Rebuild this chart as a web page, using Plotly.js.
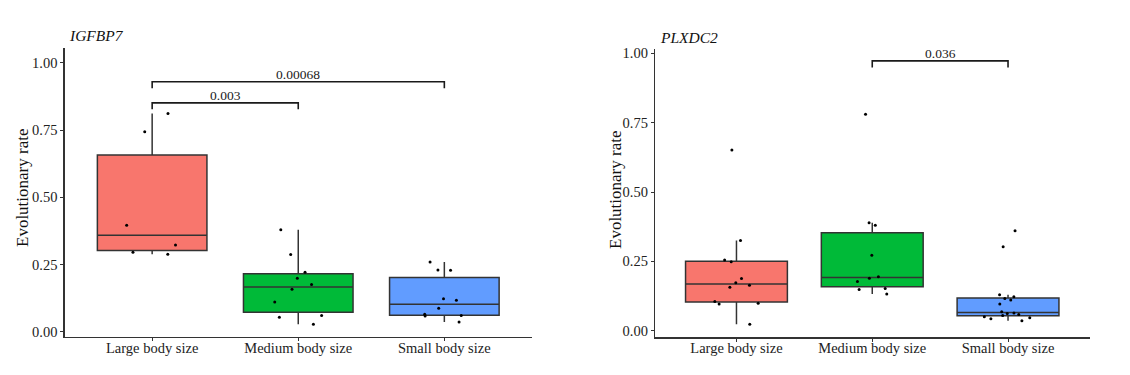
<!DOCTYPE html>
<html>
<head>
<meta charset="utf-8">
<script src="https://cdn.plot.ly/plotly-3.0.1.min.js"></script>
<style>html,body{margin:0;padding:0;background:#fff;}#chart{width:1130px;height:375px;}</style>
</head>
<body>
<div id="chart"></div>
<script>
// ---- data ----
const categories = ['Large body size', 'Medium body size', 'Small body size'];
const tickVals = [0, 0.25, 0.5, 0.75, 1];
const tickText = ['0.00', '0.25', '0.50', '0.75', '1.00'];

// IGFBP7 evolutionary rates
const igfbp7Large  = [0.811, 0.744, 0.396, 0.323, 0.296, 0.289];
const igfbp7Medium = [0.380, 0.288, 0.222, 0.200, 0.176, 0.159, 0.111, 0.061, 0.055, 0.029];
const igfbp7Small  = [0.260, 0.230, 0.229, 0.123, 0.118, 0.088, 0.066, 0.061, 0.059, 0.037];
const igfbp7Pairs  = [[0, 1], [0, 2]];
const igfbp7PLabels = ['0.003', '0.00068'];

// PLXDC2 evolutionary rates
const plxdc2Large  = [0.652, 0.325, 0.255, 0.249, 0.188, 0.173, 0.164, 0.157, 0.105, 0.099, 0.096, 0.023];
const plxdc2Medium = [0.781, 0.389, 0.380, 0.272, 0.195, 0.189, 0.177, 0.152, 0.149, 0.132];
const plxdc2Small  = [0.360, 0.303, 0.130, 0.122, 0.116, 0.111, 0.096, 0.068, 0.064, 0.062, 0.058, 0.055, 0.050, 0.047, 0.043, 0.036];
const plxdc2Pairs  = [[1, 2]];
const plxdc2PLabels = ['0.036'];

// ---- styling ----
const fills = ['#F8766D', '#00BA38', '#619CFF'];
const FONT = '"Liberation Serif", "Times New Roman", Times, serif';
const W = 1130, H = 375;

// R type-7 quantile (ggplot2 default) + Tukey whiskers
function quantile7(sorted, p) {
  const h = (sorted.length - 1) * p, lo = Math.floor(h), hi = Math.ceil(h);
  return sorted[lo] + (h - lo) * (sorted[hi] - sorted[lo]);
}
function stats(vals) {
  const s = vals.slice().sort((a, b) => a - b);
  const q1 = quantile7(s, 0.25), med = quantile7(s, 0.5), q3 = quantile7(s, 0.75);
  const iqr = q3 - q1;
  const lf = Math.min(...s.filter(v => v >= q1 - 1.5 * iqr));
  const uf = Math.max(...s.filter(v => v <= q3 + 1.5 * iqr));
  return {q1, med, q3, lf, uf};
}

function boxTrace(vals, ci, xa, ya) {
  const st = stats(vals);
  return {
    type: 'box', x: [categories[ci]],
    q1: [st.q1], median: [st.med], q3: [st.q3], lowerfence: [st.lf], upperfence: [st.uf],
    xaxis: xa, yaxis: ya, boxpoints: false,
    line: {color: '#333333', width: 1.5},
    fillcolor: fills[ci], width: 0.75, whiskerwidth: 0,
    showlegend: false, hoverinfo: 'skip'
  };
}
function pointTrace(vals, ci, xa, ya) {
  return {
    type: 'box', x: vals.map(() => categories[ci]), y: vals,
    xaxis: xa, yaxis: ya,
    boxpoints: 'all', jitter: 0.55, pointpos: 0,
    marker: {color: '#000', size: 3},
    line: {color: 'rgba(0,0,0,0)', width: 0},
    fillcolor: 'rgba(0,0,0,0)', width: 0.75, whiskerwidth: 0,
    showlegend: false, hoverinfo: 'y'
  };
}

const groups = [
  [igfbp7Large, 0, 'x', 'y'], [igfbp7Medium, 1, 'x', 'y'], [igfbp7Small, 2, 'x', 'y'],
  [plxdc2Large, 0, 'x2', 'y2'], [plxdc2Medium, 1, 'x2', 'y2'], [plxdc2Small, 2, 'x2', 'y2']
];
const traces = groups.map(g => boxTrace(...g)).concat(groups.map(g => pointTrace(...g)));

const shapes = [], annotations = [];
function addBrackets(pairs, labels, levels, xr, yr) {
  pairs.forEach((p, i) => {
    const yTop = levels[i], yLow = levels[i] - 0.024;
    shapes.push({
      type: 'path', xref: xr, yref: yr,
      path: `M ${p[0]},${yLow} L ${p[0]},${yTop} L ${p[1]},${yTop} L ${p[1]},${yLow}`,
      line: {color: '#1a1a1a', width: 1.6}
    });
    annotations.push({
      xref: xr, yref: yr, x: (p[0] + p[1]) / 2, y: yTop,
      text: labels[i], showarrow: false, yanchor: 'middle', yshift: 7,
      font: {family: FONT, size: 13.5, color: '#1a1a1a'}
    });
  });
}
addBrackets(igfbp7Pairs, igfbp7PLabels, [0.851, 0.929], 'x', 'y');
addBrackets(plxdc2Pairs, plxdc2PLabels, [0.973], 'x2', 'y2');

// panel titles
annotations.push({xref: 'paper', yref: 'paper', x: 67 / W, y: 1 - 36 / H, xanchor: 'left', yanchor: 'middle',
  text: '<i>IGFBP7</i>', showarrow: false, font: {family: FONT, size: 15.5, color: '#111'}});
annotations.push({xref: 'paper', yref: 'paper', x: 658 / W, y: 1 - 38 / H, xanchor: 'left', yanchor: 'middle',
  text: '<i>PLXDC2</i>', showarrow: false, font: {family: FONT, size: 15.5, color: '#111'}});
// y-axis titles
annotations.push({xref: 'paper', yref: 'paper', x: 22 / W, y: 1 - 188 / H, xanchor: 'center', yanchor: 'middle',
  text: 'Evolutionary rate', textangle: -90, showarrow: false, font: {family: FONT, size: 17, color: '#111'}});
annotations.push({xref: 'paper', yref: 'paper', x: 615 / W, y: 1 - 190 / H, xanchor: 'center', yanchor: 'middle',
  text: 'Evolutionary rate', textangle: -90, showarrow: false, font: {family: FONT, size: 17, color: '#111'}});

function xAxis(domainPx, anchor) {
  return {
    domain: [domainPx[0] / W, domainPx[1] / W], anchor: anchor,
    type: 'category', categoryorder: 'array', categoryarray: categories,
    range: [-0.6, 2.6], showgrid: false, zeroline: false,
    showline: true, linecolor: '#333', linewidth: 1.2,
    ticks: 'outside', ticklen: 3, tickcolor: '#333', tickwidth: 1,
    ticklabelstandoff: -6,
    tickfont: {family: FONT, size: 14.5, color: '#222'}
  };
}
function yAxis(topPx, botPx, range, anchor) {
  return {
    domain: [1 - botPx / H, 1 - topPx / H], anchor: anchor,
    range: range, showgrid: false, zeroline: false,
    showline: true, linecolor: '#333', linewidth: 1.2,
    ticks: 'outside', ticklen: 3, tickcolor: '#333', tickwidth: 1,
    tickvals: tickVals, ticktext: tickText,
    tickfont: {family: FONT, size: 14.5, color: '#222'}
  };
}

const layout = {
  width: W, height: H,
  margin: {l: 0, r: 0, t: 0, b: 0},
  paper_bgcolor: '#fff', plot_bgcolor: '#fff',
  showlegend: false,
  boxmode: 'overlay',
  font: {family: FONT},
  xaxis: xAxis([64.5, 532], 'y'),
  yaxis: yAxis(48, 337, [-0.0186, 1.0546], 'x'),
  xaxis2: xAxis([655, 1089.5], 'y2'),
  yaxis2: yAxis(49.3, 337.3, [-0.0238, 1.0148], 'x2'),
  shapes: shapes,
  annotations: annotations
};

Plotly.newPlot('chart', traces, layout, {displayModeBar: false, staticPlot: true});
</script>
</body>
</html>
